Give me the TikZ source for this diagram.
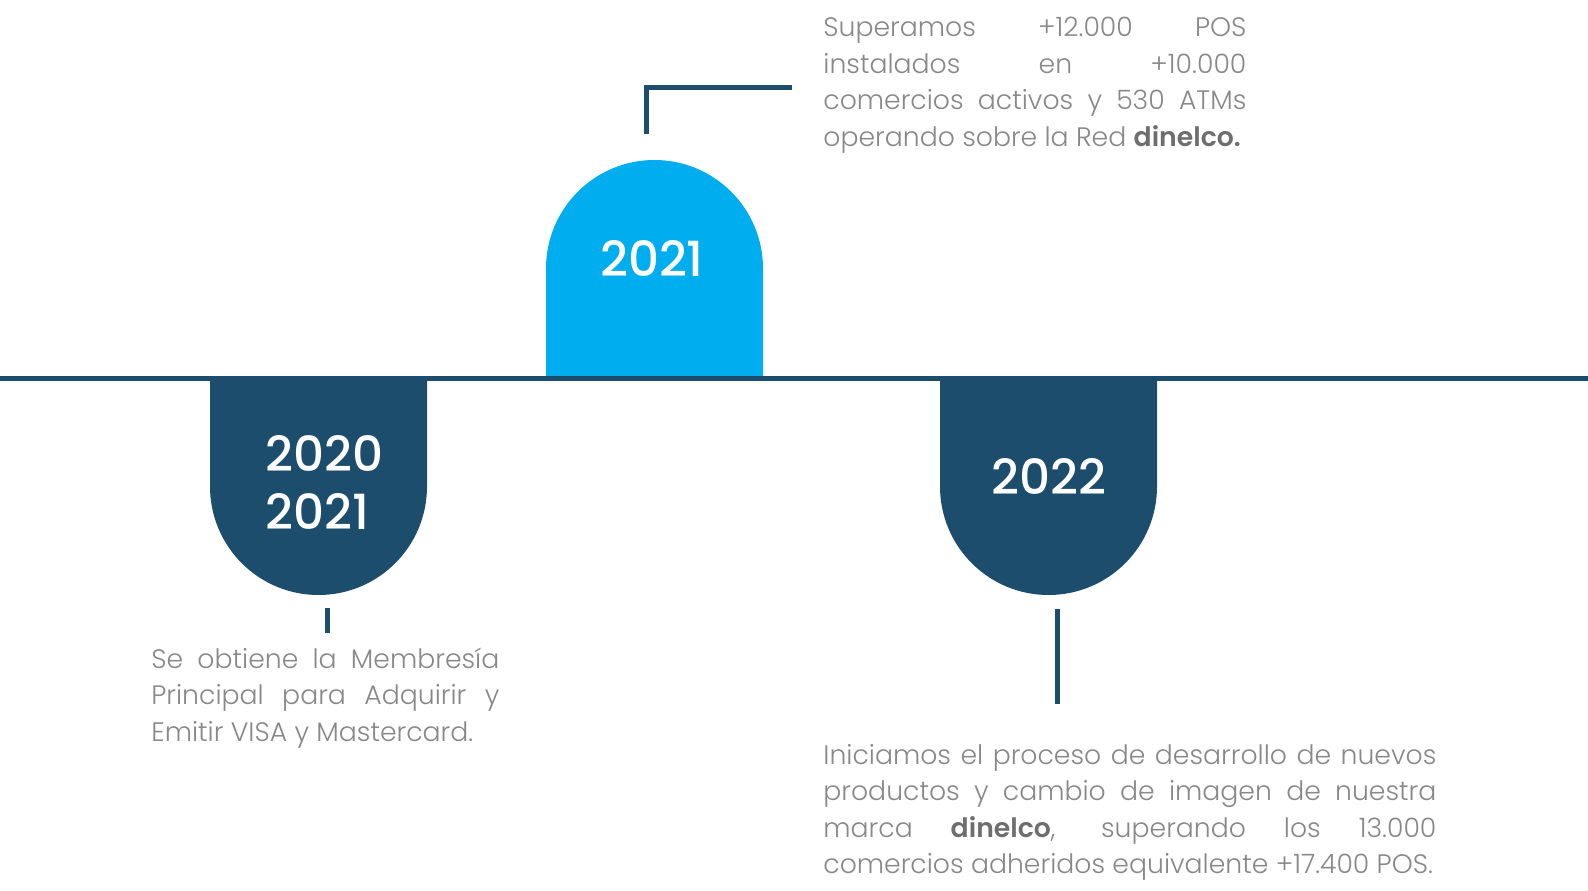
\documentclass[tikz,border=0pt]{standalone}
\usepackage{fontspec}
\setmainfont{Poppins}[UprightFont=* Light, BoldFont=* SemiBold]
\newfontfamily\yearfont{Poppins Medium}
\usepackage{tikz}
\usetikzlibrary{positioning}
\definecolor{navy}{HTML}{1C4D6C}
\definecolor{sky}{HTML}{00AEEF}
\definecolor{txtgray}{HTML}{888888}
\definecolor{boldgray}{HTML}{6E6E6E}
\newcommand{\brand}[1]{\textbf{\color{boldgray}#1}}

\begin{document}
\begin{tikzpicture}[x=0.5pt,y=0.5pt,
                    timeline/.style={line width=2.5pt, navy},
                    stem/.style={line width=2.5pt, navy},
                    lighttab/.style={fill=sky},
                    darktab/.style={fill=navy},
                    year/.style={text=white, inner sep=0pt, font=\yearfont\fontsize{24.2}{29}\selectfont},
                    note/.style={text=txtgray, inner sep=0pt, anchor=base west, align=justify,
                                 font=\fontsize{13.35}{18.3}\selectfont,
                                 execute at begin node={\hyphenpenalty=10000\relax}},
                   ]
\useasboundingbox (0,0) rectangle (1588,890);

% tabs
\fill[lighttab] (546,514) -- (546,621.5) arc[start angle=180,end angle=0,radius=108.5] -- (763,514) -- cycle;
\fill[darktab] (210,510) -- (210,403.5) arc[start angle=180,end angle=360,radius=108.5] -- (427,510) -- cycle;
\fill[darktab] (940,510) -- (940,403.5) arc[start angle=180,end angle=360,radius=108.5] -- (1157,510) -- cycle;

\coordinate (lineL) at (0,512);
\coordinate (lineR) at (1588,512);
\draw[timeline] (lineL) -- (lineR);

\node[year] (yrMid) at (652,632) {2021};
\node[year, align=left, anchor=west] (yrLeft) at (265,408) {2020\\2021};
\node[year] (yrRight) at (1049,414) {2022};

\node[note, text width=211.5pt] (txtMid) at (823,853.5)
  {Superamos +12.000 POS\linebreak instalados en +10.000\linebreak comercios activos y 530 ATMs\linebreak operando sobre la Red \brand{dinelco.}};
\node[note, text width=174pt] (txtLeft) at (151,222)
  {Se obtiene la Membresía\linebreak Principal para Adquirir y\linebreak Emitir VISA y Mastercard.};
\node[note, text width=306.5pt] (txtRight) at (823,126)
  {Iniciamos el proceso de desarrollo de nuevos\linebreak productos y cambio de imagen de nuestra\linebreak marca \brand{dinelco}, superando los 13.000\linebreak \mbox{comercios adheridos equivalente +17.400 POS.}};

% connectors
\coordinate (brkEnd) at (792,802);
\coordinate (brkCorner) at (646,802);
\coordinate (brkFoot) at (646,756);
\draw[stem] (brkEnd) -- (brkCorner) -- (brkFoot);

\coordinate (tickTop) at (327,282);
\coordinate (tickBot) at (327,257);
\draw[stem] (tickTop) -- (tickBot);

\coordinate (stemTop) at (1057,281);
\coordinate (stemBot) at (1057,186);
\draw[stem] (stemTop) -- (stemBot);

\end{tikzpicture}
\end{document}
